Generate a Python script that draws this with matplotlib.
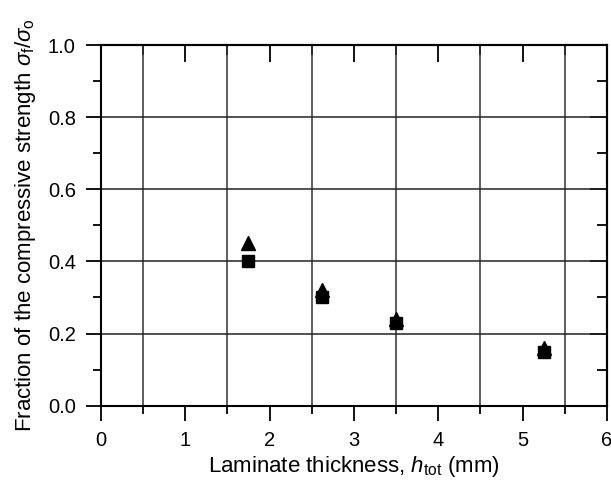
import matplotlib
matplotlib.use("Agg")
import matplotlib.pyplot as plt
from matplotlib.ticker import MultipleLocator

plt.rcParams['font.family'] = ['Liberation Sans', 'DejaVu Sans']
plt.rcParams['mathtext.fontset'] = 'custom'
plt.rcParams['mathtext.rm'] = 'Liberation Sans'
plt.rcParams['mathtext.it'] = 'Liberation Sans:italic'

thickness = [1.75, 2.625, 3.5, 5.25]
triangle_vals = [0.45, 0.32, 0.24, 0.16]
square_vals = [0.40, 0.30, 0.23, 0.15]

fig = plt.figure(figsize=(6.11, 4.80), dpi=100)
ax = fig.add_axes([0.165, 0.155, 0.8285, 0.751])

ax.set_xlim(0, 6)
ax.set_ylim(0, 1.0)
ax.xaxis.set_major_locator(MultipleLocator(1))
ax.xaxis.set_minor_locator(MultipleLocator(0.5))
ax.yaxis.set_major_locator(MultipleLocator(0.2))
ax.yaxis.set_minor_locator(MultipleLocator(0.1))
ax.yaxis.set_major_formatter(plt.FormatStrFormatter('%.1f'))

ax.grid(which='minor', axis='x', color='#333333', linewidth=1.1)
ax.grid(which='major', axis='y', color='#222222', linewidth=1.1)
ax.set_axisbelow(True)

ax.plot(thickness, square_vals, 's', color='black', markersize=9, zorder=3, clip_on=False)
ax.plot(thickness, triangle_vals, '^', color='black', markersize=10.5, zorder=3, clip_on=False)

for s in ax.spines.values():
    s.set_linewidth(1.5)
    s.set_color('black')

ax.tick_params(axis='both', which='major', direction='out', length=11, width=1.3,
               labelsize=14.5, pad=7)
ax.tick_params(axis='both', which='minor', direction='out', length=6, width=1.3)
ax.tick_params(axis='x', which='both', top=False)
ax.tick_params(axis='y', which='both', right=False)

ax.set_xlabel(r'Laminate thickness, $h_{\rm tot}$ (mm)', fontsize=16, labelpad=3)
ax.set_ylabel(r'Fraction of the compressive strength $\sigma_{\rm f}/\sigma_{\rm o}$',
              fontsize=16, labelpad=7)

axt = ax.secondary_xaxis('top')
axt.xaxis.set_major_locator(MultipleLocator(1))
axt.xaxis.set_minor_locator(MultipleLocator(0.5))
axt.tick_params(which='major', direction='in', length=12, width=1.3, labeltop=False)
axt.tick_params(which='minor', direction='in', length=7, width=1.3)
axt.spines['top'].set_linewidth(1.5)
axr = ax.secondary_yaxis('right')
axr.yaxis.set_major_locator(MultipleLocator(0.2))
axr.yaxis.set_minor_locator(MultipleLocator(0.1))
axr.tick_params(which='major', direction='in', length=12, width=1.3, labelright=False)
axr.tick_params(which='minor', direction='in', length=7, width=1.3)
axr.spines['right'].set_linewidth(1.5)

fig.savefig('out.png', dpi=100)
